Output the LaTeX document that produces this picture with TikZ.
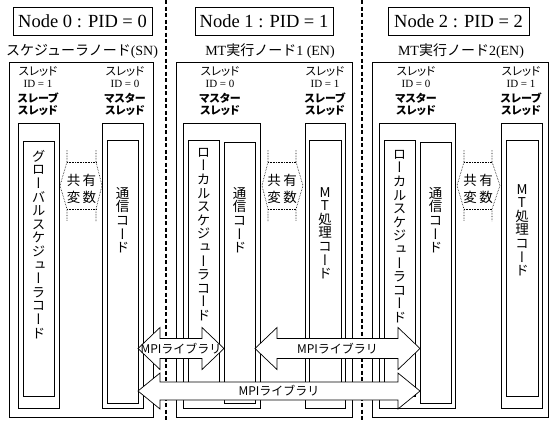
\documentclass[tikz,border=0pt]{standalone}
\usepackage{fontspec}
\setmainfont{Liberation Serif}
\newfontfamily\jp{Noto Sans CJK JP}
\newfontfamily\jpp[RawFeature=+palt]{Noto Sans CJK JP}
\newfontfamily\jpv[RawFeature=+vert]{Noto Sans CJK JP}
\usetikzlibrary{calc}

\newcommand\bx[6][]{\node[box,#1,minimum width={#5pt-#3pt},minimum height={#6pt-#4pt}] (#2) at ({(#3+#5)/2},{(#4+#6)/2}) {};}
\newcommand\thl[4]{%
  \node[lthin] (#1a) at (#2,71) {スレッド};
  \node[lid] (#1b) at (#2,84) {ID = #3};
  \node[lbold] (#1c) at (#2,98) {#4};
  \node[lbold] (#1d) at (#2,110.5) {スレッド};}
\newcommand\sharedvar[5]{%
  \draw[shvar] (#3,150) -- (#3,162) -- (#2,185.5) -- (#3,209) -- (#3,221);
  \draw[shvar] (#4,150) -- (#4,162) -- (#5,185.5) -- (#4,209) -- (#4,221);
  \draw[shvar] (#3,162) -- (#4,162) (#3,209) -- (#4,209);
  \node[shtext] (#1) at ({(#3+#4)/2},189) {共\hspace{2.5pt}有\\変\hspace{2.5pt}数};}
\newcommand\mpiarrow[6]{%
  \coordinate (#1L) at (#2.east |- #4);
  \coordinate (#1R) at (#3.west |- #4);
  \draw[arr] (#1L) -- ($(#1L)+(22,-#5)$) -- ($(#1L)+(22,-#6)$) -- ($(#1R)+(-22,-#6)$)
    -- ($(#1R)+(-22,-#5)$) -- (#1R) -- ($(#1R)+(-22,#5)$) -- ($(#1R)+(-22,#6)$)
    -- ($(#1L)+(22,#6)$) -- ($(#1L)+(22,#5)$) -- cycle;
  \node[mpitext] (#1t) at ($(#1L)!0.5!(#1R)$) {MPIライブラリ};}

\begin{document}
\begin{tikzpicture}[x=1pt,y=-1pt,
  box/.style={draw, line width=0.8pt, inner sep=0pt, outer sep=0pt},
  titlebox/.style={draw, line width=0.8pt, inner sep=0pt, minimum height=28pt, font=\fontsize{18.5}{20}\selectfont},
  sub/.style={font=\fontsize{14}{16}\selectfont, inner sep=0pt},
  vtext/.style={font=\jpv\fontsize{13.5}{13.6}\selectfont, align=center, inner sep=0pt, anchor=north},
  shtext/.style={font=\jp\fontsize{13.5}{17.5}\selectfont, align=center, inner sep=0pt},
  shvar/.style={densely dotted, line width=0.6pt},
  arr/.style={draw, fill=white, line width=0.7pt, line join=miter},
  mpitext/.style={font=\jp\fontsize{12}{14}\selectfont, inner sep=0pt},
  lthin/.style={font=\jpp\fontsize{11.5}{12}\selectfont, inner sep=0pt},
  lid/.style={font=\fontsize{11}{12}\selectfont, inner sep=0pt},
  lbold/.style={font=\jpp\bfseries\fontsize{11}{12}\selectfont, inner sep=0pt},
  sepline/.style={line width=2pt, dash pattern=on 4pt off 2.5pt}]
\useasboundingbox (0,0) rectangle (553,421);
\fill[white] (0,0) rectangle (553,421);

% titles
\node[titlebox, minimum width=139pt] (t0) at (82.5,21) {Node 0 : PID = 0};
\node[titlebox, minimum width=138pt] (t1) at (264,21) {Node 1 : PID = 1};
\node[titlebox, minimum width=141pt] (t2) at (458.5,21) {Node 2 : PID = 2};
\node[sub] (s0) at (82,51) {{\jp スケジューラノード}(SN)};
\node[sub] (s1) at (270,51) {MT{\jp 実行ノード}1 (EN)};
\node[sub] (s2) at (461,51) {MT{\jp 実行ノード}2(EN)};

% outer node boxes
\bx{sn}{9}{62}{153}{417}
\bx{en1}{176}{62}{352}{417}
\bx{en2}{372}{62}{548}{417}
% thread boxes
\bx{sns}{18}{123}{59}{408}
\bx{snm}{102}{123}{143}{408}
\bx{e1m}{183}{123}{260}{408}
\bx{e1s}{305}{123}{345}{408}
\bx{e2m}{379}{123}{455}{408}
\bx{e2s}{501}{123}{542}{408}
% code boxes
\bx{sng}{23}{141}{54}{396}
\bx{snc}{107}{140}{138}{403}
\bx{e1l}{188}{140}{219}{396}
\bx{e1c}{224}{142}{255}{403}
\bx{e1t}{309}{140}{341}{396}
\bx{e2l}{384}{140}{415}{396}
\bx{e2c}{420}{142}{451}{403}
\bx{e2t}{506}{140}{538}{396}

% separators
\draw[sepline] (166,0) -- (166,421);
\draw[sepline] (362,0) -- (362,421);

% shared variables
\sharedvar{snv}{60}{67}{96}{102}
\sharedvar{e1v}{262}{268}{296}{303}
\sharedvar{e2v}{457}{464}{492}{500}

% code texts
\node[vtext] (sngt) at (38.5,150) {グ\\ロ\\ー\\バ\\ル\\ス\\ケ\\ジ\\ュ\\ー\\ラ\\コ\\ー\\ド};
\node[vtext] (snct) at (122.5,187) {通\\信\\コ\\ー\\ド};
\node[vtext] (e1lt) at (203.5,148) {ロ\\ー\\カ\\ル\\ス\\ケ\\ジ\\ュ\\ー\\ラ\\コ\\ー\\ド};
\node[vtext] (e1ct) at (239.5,187) {通\\信\\コ\\ー\\ド};
\node[vtext] (e1tt) at (325,187) {M\\T\\処\\理\\コ\\ー\\ド};
\node[vtext] (e2lt) at (399.5,150) {ロ\\ー\\カ\\ル\\ス\\ケ\\ジ\\ュ\\ー\\ラ\\コ\\ー\\ド};
\node[vtext] (e2ct) at (435.5,187) {通\\信\\コ\\ー\\ド};
\node[vtext] (e2tt) at (522,184) {M\\T\\処\\理\\コ\\ー\\ド};

% MPI arrows
\coordinate (yab) at (0,348.5);
\coordinate (yc) at (0,391);
\mpiarrow{ma}{snc}{e1c}{yab}{21}{10}
\mpiarrow{mb}{e1c}{e2c}{yab}{21}{10}
\mpiarrow{mc}{snc}{e2c}{yc}{18}{9}

% thread labels
\thl{lsns}{38}{1}{スレーブ}
\thl{lsnm}{125}{0}{マスター}
\thl{le1m}{220}{0}{マスター}
\thl{le1s}{325}{1}{スレーブ}
\thl{le2m}{416}{0}{マスター}
\thl{le2s}{521}{1}{スレーブ}
\end{tikzpicture}
\end{document}
